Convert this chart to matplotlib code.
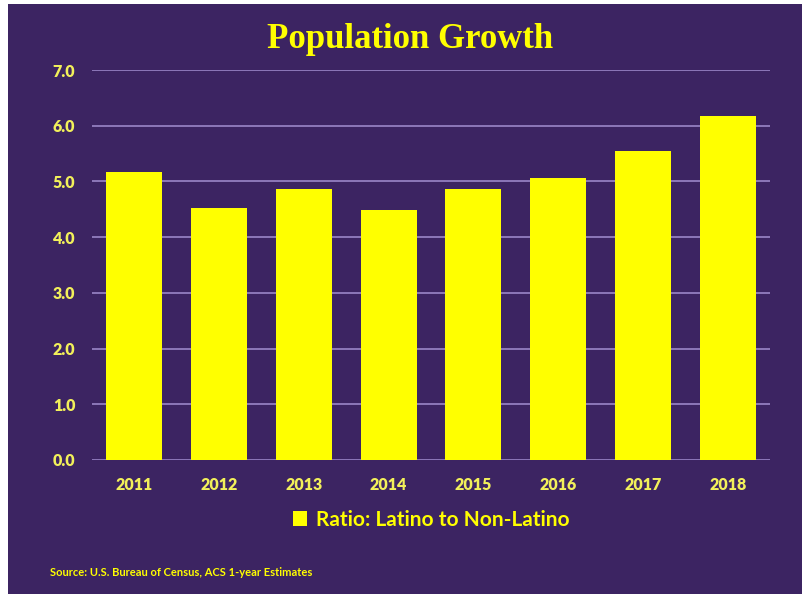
import numpy as np
import matplotlib
matplotlib.use("Agg")
import matplotlib.pyplot as plt
from matplotlib.patches import Rectangle

years = ["2011", "2012", "2013", "2014", "2015", "2016", "2017", "2018"]
ratio = [5.17, 4.53, 4.86, 4.49, 4.86, 5.06, 5.55, 6.18]
yticks = [0, 1, 2, 3, 4, 5, 6, 7]
series_name = "Ratio: Latino to Non-Latino"
title = "Population Growth"
source = "Source: U.S. Bureau of Census, ACS 1-year Estimates"

bg = "#3c2462"
yellow = "#ffff00"
tick_col = "#f2f05a"
grid_col = "#9a86c8"

fig = plt.figure(figsize=(8.02, 5.94), dpi=100, facecolor="white")
# purple panel with thin white margin at left/top like the slide
fig.patches.append(Rectangle((8 / 802, 0), 1, 1 - 4 / 594, transform=fig.transFigure,
                             facecolor=bg, edgecolor="none", zorder=-10))

ax = fig.add_axes([92 / 802, 1 - 460 / 594, (770 - 92) / 802, (460 - 70) / 594])
ax.set_facecolor(bg)
x = np.arange(len(years))
ax.bar(x, ratio, width=0.66, color=yellow, zorder=3, label=series_name)
ax.set_xlim(-0.5, len(years) - 0.5)
ax.set_ylim(0, 7)
ax.set_yticks(yticks)
ax.set_yticklabels([f"{v:.1f}" for v in yticks])
ax.set_xticks(x)
ax.set_xticklabels(years)
ax.grid(axis="y", color=grid_col, linewidth=1.2, zorder=0)
for s in ax.spines.values():
    s.set_visible(False)
ax.tick_params(length=0, colors=tick_col, labelsize=11.5)
ax.tick_params(axis="y", pad=12)
ax.tick_params(axis="x", pad=12)
for lab in ax.get_xticklabels() + ax.get_yticklabels():
    lab.set_fontweight("heavy")
    lab.set_family("Lato")

fig.text(410 / 802, 1 - 40 / 594, title, ha="center", va="center", color=yellow,
         fontsize=25, fontweight="bold", family="Liberation Serif")

leg = ax.legend(loc="center", bbox_to_anchor=(0.5, (460 - 520) / 390), frameon=False,
                handlelength=0.7, handleheight=0.7, handletextpad=0.4,
                prop={"family": "Lato", "weight": "bold", "size": 15})
for t in leg.get_texts():
    t.set_color(yellow)

fig.text(50 / 802, 1 - 573 / 594, source, ha="left", va="center", color=yellow,
         fontsize=8, fontweight="bold", family="Lato")

fig.savefig("out.png", dpi=100, facecolor=fig.get_facecolor())
